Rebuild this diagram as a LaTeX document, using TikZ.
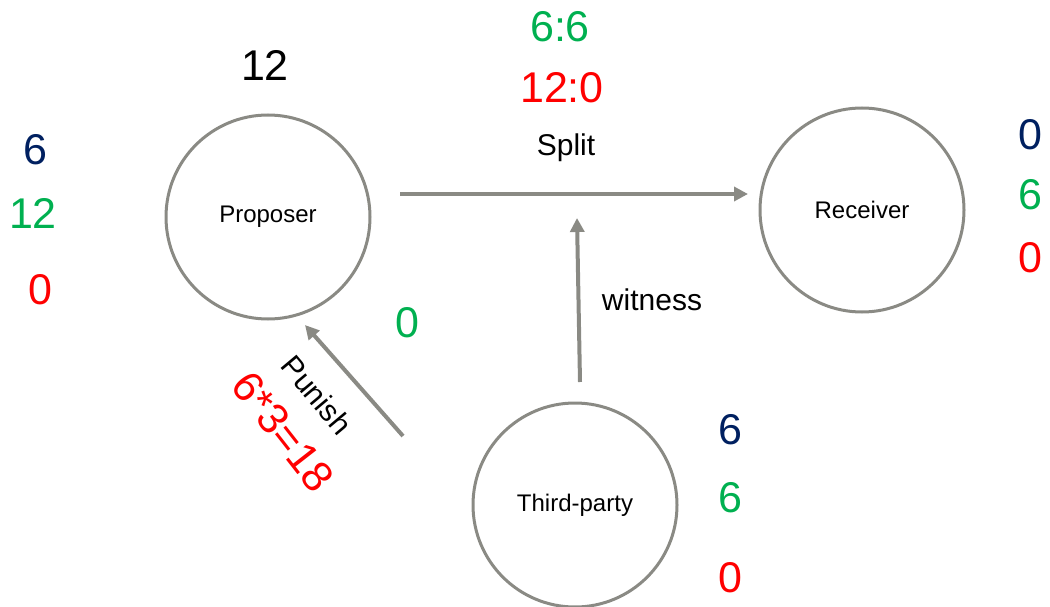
\documentclass[tikz,border=0pt]{standalone}
\usepackage{fontspec}
\setmainfont{Liberation Sans}
\usetikzlibrary{arrows.meta}
\definecolor{navyc}{RGB}{0,32,96}
\definecolor{greenc}{RGB}{0,176,80}
\definecolor{redc}{RGB}{255,0,0}
\definecolor{grayc}{RGB}{138,138,132}
\tikzset{
  party/.style={circle,draw=grayc,line width=3pt,minimum size=204pt,inner sep=0pt,font=\fontsize{24}{28}\selectfont},
  flow/.style={draw=grayc,line width=4pt,-{Triangle[length=14pt,width=14pt]}},
  big/.style={font=\fontsize{43}{50}\selectfont,inner sep=0pt},
  lbl/.style={font=\fontsize{30}{36}\selectfont,inner sep=0pt},
}
\begin{document}
\begin{tikzpicture}[x=1pt,y=-1pt]
\useasboundingbox (0,0) rectangle (1050,607);
\node[party] (prop) at (268,217) {Proposer};
\node[party] (recv) at (862,210) {Receiver};
\node[party] (third) at (575,505) {Third-party};

\coordinate (s1) at (400,194);
\coordinate (s2) at (748,194);
\coordinate (w1) at (580,382);
\coordinate (w2) at (577,218);
\coordinate (p1) at (403,436);
\coordinate (p2) at (305,325);
\draw[flow] (s1) -- (s2);
\draw[flow] (w1) -- (w2);
\draw[flow] (p1) -- (p2);

\node[big] (ptop) at (265,65) {12};
\node[big,text=greenc] (r66) at (560,27) {6:6};
\node[big,text=redc] (r120) at (562,88) {12:0};
\node[lbl] (split) at (566,148) {Split};
\node[lbl] (wit) at (652,300) {witness};
\node[big,text=greenc] (g0) at (407,323) {0};
\node[lbl,rotate=-50] (pun) at (317,395) {Punish};
\node[big,text=redc,rotate=-52] (calc) at (283,432) {6*3=18};

\node[big,text=navyc] (l1) at (35,150) {6};
\node[big,text=greenc] (l2) at (33,213) {12};
\node[big,text=redc] (l3) at (40,290) {0};

\node[big,text=navyc] (r1) at (1030,135) {0};
\node[big,text=greenc] (r2) at (1030,195) {6};
\node[big,text=redc] (r3) at (1030,258) {0};

\node[big,text=navyc] (t1) at (730,430) {6};
\node[big,text=greenc] (t2) at (730,498) {6};
\node[big,text=redc] (t3) at (730,578) {0};
\end{tikzpicture}
\end{document}
